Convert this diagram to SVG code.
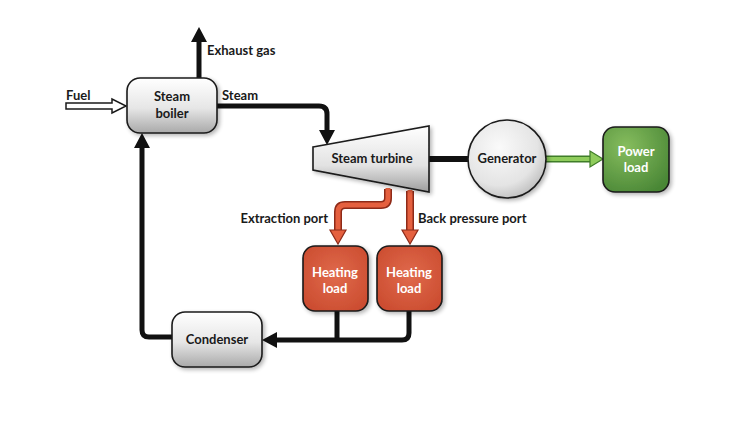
<svg xmlns="http://www.w3.org/2000/svg" width="750" height="429" viewBox="0 0 750 429">
<defs>
<linearGradient id="gGray" x1="0" y1="0" x2="0" y2="1">
<stop offset="0" stop-color="#ffffff"/>
<stop offset="0.55" stop-color="#e6e6e6"/>
<stop offset="1" stop-color="#a9a9a9"/>
</linearGradient>
<linearGradient id="gTurb" x1="0" y1="0" x2="0" y2="1">
<stop offset="0" stop-color="#ffffff"/>
<stop offset="0.6" stop-color="#e2e2e2"/>
<stop offset="1" stop-color="#9e9e9e"/>
</linearGradient>
<radialGradient id="gGen" cx="0.4" cy="0.35" r="0.7">
<stop offset="0" stop-color="#fafafa"/>
<stop offset="0.7" stop-color="#e4e4e4"/>
<stop offset="1" stop-color="#bdbdbd"/>
</radialGradient>
<radialGradient id="gRed" cx="0.5" cy="0.45" r="0.7">
<stop offset="0" stop-color="#e06a4c"/>
<stop offset="1" stop-color="#c9492d"/>
</radialGradient>
<radialGradient id="gGreen" cx="0.35" cy="0.3" r="0.8">
<stop offset="0" stop-color="#86bd5e"/>
<stop offset="1" stop-color="#4a8736"/>
</radialGradient>
<filter id="sh" x="-20%" y="-20%" width="150%" height="150%">
<feGaussianBlur in="SourceAlpha" stdDeviation="2"/>
<feOffset dx="2" dy="2"/>
<feComponentTransfer><feFuncA type="linear" slope="0.3"/></feComponentTransfer>
<feMerge><feMergeNode/><feMergeNode in="SourceGraphic"/></feMerge>
</filter>
</defs>
<style>
text{font-family:Lato,"Open Sans","Liberation Sans",sans-serif;font-weight:bold;font-size:13px;fill:#1a1a1a}
.c{text-anchor:middle}
.w{fill:#ffffff}
.box{stroke:#1a1a1a;stroke-width:1.6}
.blk{fill:none;stroke:#111;stroke-width:5}
.hd{fill:#111}
.redo{fill:none;stroke:#8e2a18;stroke-width:8}
.redi{fill:none;stroke:#e5603f;stroke-width:5}
.redh{fill:#e5603f;stroke:#8e2a18;stroke-width:1.2}
</style>
<rect width="750" height="429" fill="#ffffff"/>

<g id="connectors">
<line class="blk" x1="199" y1="79" x2="199" y2="41"/>
<polygon class="hd" points="191,42 207,42 199,27"/>
<polygon points="66,103 112,103 112,99 126,106 112,113 112,109 66,109" fill="#ffffff" stroke="#1a1a1a" stroke-width="1.5"/>
<path class="blk" d="M217,106 H319 Q327,106 327,114 V131"/>
<polygon class="hd" points="319,130 335,130 327,145"/>
<line x1="429" y1="159" x2="469" y2="159" stroke="#111" stroke-width="6"/>
<line x1="546" y1="159" x2="591" y2="159" stroke="#3f7d28" stroke-width="7"/>
<line x1="546" y1="159" x2="592" y2="159" stroke="#8fcc5c" stroke-width="4"/>
<polygon points="590,151 590,167 603,159" fill="#8fcc5c" stroke="#3f7d28" stroke-width="1.2"/>
<path class="redo" d="M388,189 V198 Q388,205 381,205 H345 Q338,205 338,212 V231"/>
<path class="redi" d="M388,188 V198 Q388,205 381,205 H345 Q338,205 338,212 V232"/>
<polygon class="redh" points="330,230 346,230 338,244"/>
<path class="redo" d="M410,191 V231"/>
<path class="redi" d="M410,190 V232"/>
<polygon class="redh" points="402,230 418,230 410,244"/>
<path class="blk" d="M337,311 V340"/>
<path class="blk" d="M409,311 V333 Q409,340 402,340 H275"/>
<polygon class="hd" points="277,332 277,348 262,340"/>
<path class="blk" d="M173,337 H149 Q142,337 142,330 V147"/>
<polygon class="hd" points="134,148 150,148 142,133"/>
</g>

<g id="boiler">
<rect class="box" x="127" y="78" width="90" height="55" rx="13" fill="url(#gGray)" filter="url(#sh)"/>
<text class="c" x="172" y="101">Steam</text>
<text class="c" x="172" y="118">boiler</text>
</g>

<g id="turbine">
<polygon class="box" points="313,147 429,126 429,192 313,170" fill="url(#gTurb)" filter="url(#sh)"/>
<text class="c" x="372" y="163">Steam turbine</text>
</g>

<g id="generator">
<circle class="box" cx="507" cy="159" r="39" fill="url(#gGen)" filter="url(#sh)"/>
<text class="c" x="507" y="163">Generator</text>
</g>

<g id="power-load">
<rect class="box" x="603" y="127" width="66" height="65" rx="12" fill="url(#gGreen)" filter="url(#sh)"/>
<text class="c w" x="636" y="156">Power</text>
<text class="c w" x="636" y="172">load</text>
</g>

<g id="heating-load-1">
<rect class="box" x="303" y="246" width="65" height="65" rx="12" fill="url(#gRed)" filter="url(#sh)"/>
<text class="c w" x="335" y="277">Heating</text>
<text class="c w" x="335" y="293">load</text>
</g>

<g id="heating-load-2">
<rect class="box" x="377" y="246" width="65" height="65" rx="12" fill="url(#gRed)" filter="url(#sh)"/>
<text class="c w" x="409" y="277">Heating</text>
<text class="c w" x="409" y="293">load</text>
</g>

<g id="condenser">
<rect class="box" x="172" y="312" width="90" height="55" rx="13" fill="url(#gGray)" filter="url(#sh)"/>
<text class="c" x="217" y="344">Condenser</text>
</g>

<g id="labels">
<text x="207" y="55">Exhaust gas</text>
<text x="66" y="100">Fuel</text>
<text x="222" y="100">Steam</text>
<text x="328" y="223" text-anchor="end">Extraction port</text>
<text x="418" y="223">Back pressure port</text>
</g>
</svg>
